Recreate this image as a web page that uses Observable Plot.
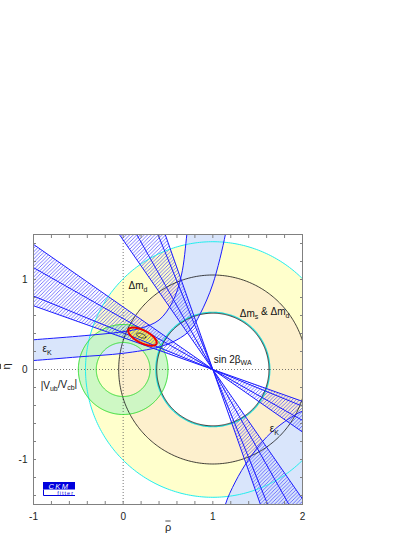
<!DOCTYPE html>
<html>
<head>
<meta charset="utf-8">
<script src="https://cdn.jsdelivr.net/npm/d3@7"></script>
<script src="https://cdn.jsdelivr.net/npm/@observablehq/plot@0.6"></script>
<style>
html,body{margin:0;padding:0;background:#fff;}
#chart{width:415px;height:537px;}
</style>
</head>
<body>
<div id="chart"></div>
<script>
// ---------- axes ----------
const xTickValues = [-1, 0, 1, 2];
const xTickLabels = ["-1", "0", "1", "2"];
const yTickValues = [-1, 0, 1];
const yTickLabels = ["-1", "0", "1"];
const xMinorTicks = [-1, -0.8, -0.6, -0.4, -0.2, 0, 0.2, 0.4, 0.6, 0.8, 1, 1.2, 1.4, 1.6, 1.8, 2];
const yMinorTicks = [-1.4, -1.2, -1, -0.8, -0.6, -0.4, -0.2, 0, 0.2, 0.4, 0.6, 0.8, 1, 1.2, 1.4];
const xLabel = "ρ";   // drawn with an overbar
const yLabel = "η";   // drawn with an overbar

// ---------- constraints ----------
const dmCentre = [1, 0];
const dmdRadii = [0.63, 1.42];      // Δm_d band (cyan borders)
const dmsRadii = [0.63, 1.05];      // Δm_s & Δm_d band (black borders)
const vubCentre = [0, 0];
const vubRadii = [0.30, 0.50];      // |Vub/Vcb| band (green)
const sin2bApex = [1, 0];
const sin2bBeta = [19.5, 22.2, 29.5, 34.8];   // degrees; second solution at 90-β
// ε_K band, upper-left branch
const epsKUpper = [[-1.1, 0.32], [-1, 0.33], [-0.5, 0.37], [0, 0.42], [0.2, 0.46], [0.4, 0.55], [0.55, 0.75], [0.65, 1.05], [0.71, 1.5], [0.73, 1.7]];
const epsKLower = [[-1.1, 0.095], [-1, 0.10], [-0.5, 0.14], [0, 0.18], [0.4, 0.25], [0.6, 0.33], [0.75, 0.44], [0.86, 0.62], [1.0, 0.95], [1.14, 1.5], [1.17, 1.7]];
// ε_K band, lower-right branch (inner border; the other border lies outside)
const epsKRight = [[1.10, -1.7], [1.14, -1.5], [1.25, -1.25], [1.40, -1.0], [1.6, -0.75], [1.8, -0.58], [2.0, -0.46], [2.2, -0.38]];
const epsKRightCorner = [[2.4, -1.9]];
// global fit
const fitCentre = [0.215, 0.365], fitAxes = [0.175, 0.07], fitAngle = -27;
const coreCentre = [0.20, 0.377], coreAxes = [0.055, 0.022], coreAngle = -20;
// labels
const labelText = ["Δm_{d}", "Δm_{s} & Δm_{d}", "sin 2β_{WA}", "ε_{K}", "|V_{ub}/V_{cb}|", "ε_{K}"];
const labelX = [0.06, 1.30, 1.01, -0.90, -0.92, 1.635];
const labelY = [0.925, 0.624, 0.11, 0.226, -0.178, -0.66];

// ---------- geometry helpers ----------
const ring = ([cx, cy], r, n = 360) => d3.range(n + 1).map(i => {
  const t = 2 * Math.PI * i / n; return {x: cx + r * Math.cos(t), y: cy + r * Math.sin(t)};
});
const annulus = (c, [r0, r1]) => ring(c, r1).concat(ring(c, r0).reverse());
const ellipse = ([cx, cy], [a, b], deg, n = 200) => {
  const p = deg * Math.PI / 180;
  return d3.range(n + 1).map(i => {
    const t = 2 * Math.PI * i / n;
    return {x: cx + a * Math.cos(t) * Math.cos(p) - b * Math.sin(t) * Math.sin(p),
            y: cy + a * Math.cos(t) * Math.sin(p) + b * Math.sin(t) * Math.cos(p)};
  });
};
const rad = d => d * Math.PI / 180;
const far = 6;
const [ax, ay] = sin2bApex;
const bMin = d3.min(sin2bBeta), bMax = d3.max(sin2bBeta);
const wedges = [];
[[bMin, bMax], [90 - bMax, 90 - bMin]].forEach(([a1, a2], k) => {
  [1, -1].forEach(s => {
    const w = `w${k}${s}`;
    wedges.push({w, x: ax, y: ay});
    wedges.push({w, x: ax - s * far * Math.cos(rad(a1)), y: ay + s * far * Math.sin(rad(a1))});
    wedges.push({w, x: ax - s * far * Math.cos(rad(a2)), y: ay + s * far * Math.sin(rad(a2))});
  });
});
const rays = sin2bBeta.concat(sin2bBeta.map(b => 90 - b)).map(a => ({
  x1: ax - far * Math.cos(rad(a)), y1: ay + far * Math.sin(rad(a)),
  x2: ax + far * Math.cos(rad(a)), y2: ay - far * Math.sin(rad(a))
}));
const pts = arr => arr.map(([x, y]) => ({x, y}));
const epsUL = pts(epsKUpper).concat(pts(epsKLower).reverse());
const epsLR = pts(epsKRight).concat(pts(epsKRightCorner));
const labels = labelText.map((t, i) => ({t, x: labelX[i], y: labelY[i]}));

const blue = "#1c1cff";
const cl = {x: "x", y: "y", clip: true};

const plot = Plot.plot({
  width: 415, height: 537,
  marginTop: 234, marginRight: 113, marginBottom: 33, marginLeft: 33,
  x: {domain: [-1, 2]},
  y: {domain: [-1.5, 1.5]},
  style: {fontFamily: "'Liberation Sans', Arial, Helvetica, sans-serif", fontSize: "10px", background: "white", color: "#222"},
  marks: [
    Plot.line(annulus(dmCentre, dmdRadii), {...cl, fill: "#ffffcc", stroke: "none", curve: "linear-closed"}),
    Plot.line(annulus(dmCentre, dmsRadii), {...cl, fill: "#fdf0cd", stroke: "none", curve: "linear-closed"}),
    Plot.line(epsUL, {...cl, fill: "#d9e5fb", stroke: "none", curve: "catmull-rom-closed"}),
    Plot.line(epsLR, {...cl, fill: "#d9e5fb", stroke: "none", curve: "linear-closed"}),
    Plot.line(annulus(vubCentre, vubRadii), {...cl, fill: "#c6f7c2", fillOpacity: 0.85, stroke: "none", curve: "linear-closed"}),
    Plot.line(ellipse(fitCentre, fitAxes, fitAngle), {...cl, fill: "#f8f455", stroke: "none", curve: "linear-closed"}),
    Plot.line(wedges, {...cl, z: "w", fill: "url(#hatch)", stroke: "none", curve: "linear-closed"}),
    Plot.ruleX([0], {stroke: "#555", strokeDasharray: "1,2", strokeWidth: 0.8}),
    Plot.ruleY([0], {stroke: "#555", strokeDasharray: "1,2", strokeWidth: 0.8}),
    Plot.line(ring(dmCentre, dmdRadii[1]), {...cl, stroke: "#22eeee", strokeWidth: 1, curve: "linear"}),
    Plot.line(ring(dmCentre, dmdRadii[0] + 0.006), {...cl, stroke: "#22dddd", strokeWidth: 1.2}),
    Plot.line(ring(dmCentre, dmsRadii[0] - 0.004), {...cl, stroke: "#111", strokeWidth: 0.8}),
    Plot.line(ring(dmCentre, dmsRadii[1]), {...cl, stroke: "#111", strokeWidth: 0.8}),
    Plot.line(ring(vubCentre, vubRadii[0]), {...cl, stroke: "#33dd33", strokeWidth: 1}),
    Plot.line(ring(vubCentre, vubRadii[1]), {...cl, stroke: "#33dd33", strokeWidth: 1}),
    Plot.line(pts(epsKUpper), {...cl, stroke: blue, strokeWidth: 1, curve: "catmull-rom"}),
    Plot.line(pts(epsKLower), {...cl, stroke: blue, strokeWidth: 1, curve: "catmull-rom"}),
    Plot.line(pts(epsKRight), {...cl, stroke: blue, strokeWidth: 1, curve: "catmull-rom"}),
    Plot.link(rays, {x1: "x1", y1: "y1", x2: "x2", y2: "y2", stroke: blue, strokeWidth: 1, clip: true}),
    Plot.line(ellipse(fitCentre, fitAxes, fitAngle), {...cl, stroke: "#ee0000", strokeWidth: 2, curve: "linear-closed"}),
    Plot.line(ellipse(coreCentre, coreAxes, coreAngle), {...cl, stroke: "#222", strokeWidth: 0.8, curve: "linear-closed"}),
    Plot.frame({stroke: "#808080"}),
    Plot.axisX({anchor: "bottom", ticks: xTickValues, tickSize: 0, tickPadding: 8, tickFormat: (d, i) => xTickLabels[i], label: null, fontSize: 10}),
    Plot.axisY({anchor: "left", ticks: yTickValues, tickSize: 0, tickPadding: 6, tickFormat: (d, i) => yTickLabels[i], label: null, fontSize: 10}),
    Plot.axisX({anchor: "bottom", ticks: xMinorTicks, tickSize: -3, tickFormat: () => "", label: null, stroke: "#808080"}),
    Plot.axisX({anchor: "top", ticks: xMinorTicks, tickSize: -3, tickFormat: () => "", label: null, stroke: "#808080"}),
    Plot.axisY({anchor: "left", ticks: yMinorTicks, tickSize: -3, tickFormat: () => "", label: null, stroke: "#808080"}),
    Plot.axisY({anchor: "right", ticks: yMinorTicks, tickSize: -3, tickFormat: () => "", label: null, stroke: "#808080"}),
    Plot.text([xLabel], {text: d => d, frameAnchor: "bottom", dy: 26, fontSize: 11, className: "ovl"}),
    Plot.text([yLabel], {text: d => d, frameAnchor: "left", dx: -27, rotate: -90, fontSize: 11, className: "ovl"}),
    Plot.text(labels, {x: "x", y: "y", text: "t", textAnchor: "start", fontSize: 10, fill: "#111", className: "lbl"})
  ]
});

const svg = plot.tagName.toLowerCase() === "svg" ? plot : plot.querySelector("svg");
d3.select(svg).insert("defs", ":first-child").html(
  `<pattern id="hatch" patternUnits="userSpaceOnUse" width="3.6" height="3.6">
     <path d="M-1,1 L1,-1 M0,3.6 L3.6,0 M2.6,4.6 L4.6,2.6" stroke="#3b3bff" stroke-width="0.7"/>
   </pattern>`);

// subscripts in labels
d3.select(svg).selectAll(".lbl text").each(function () {
  const s = this.textContent;
  const el = d3.select(this);
  el.text(null);
  let shifted = false;
  s.split(/(_\{[^}]*\})/).forEach(p => {
    if (!p) return;
    if (p.startsWith("_{")) {
      el.append("tspan").attr("dy", "0.35em").attr("font-size", "7px").text(p.slice(2, -1));
      shifted = true;
    } else {
      const t = el.append("tspan").text(p);
      if (shifted) { t.attr("dy", "-0.35em"); shifted = false; }
    }
  });
});

// CKMfitter logo
const lg = d3.select(svg).append("g").attr("transform", "translate(43,482)");
lg.append("rect").attr("width", 32).attr("height", 7.5).attr("fill", "#0000dd");
lg.append("text").attr("x", 16).attr("y", 6.6).attr("text-anchor", "middle").attr("fill", "white")
  .attr("font-size", 7.5).attr("font-style", "italic").attr("letter-spacing", 1.5).text("CKM");
lg.append("path").attr("d", "M0.5,7.5 V13.5 H32").attr("stroke", "#0000dd").attr("fill", "none").attr("stroke-width", 1);
lg.append("text").attr("x", 31).attr("y", 12.8).attr("text-anchor", "end").attr("fill", "#0000dd")
  .attr("font-size", 5.5).attr("letter-spacing", 1).text("fitter");

document.getElementById("chart").appendChild(plot);

// overbars on the axis titles
d3.select(svg).selectAll(".ovl text").each(function () {
  const b = this.getBBox();
  const tr = this.getAttribute("transform");
  const g = d3.select(this.parentNode).append("path")
    .attr("d", `M${b.x + 0.5},${b.y + 0.5}H${b.x + b.width - 0.5}`)
    .attr("stroke", "#222").attr("stroke-width", 0.8);
  if (tr) g.attr("transform", tr);
  const x = this.getAttribute("x"), y = this.getAttribute("y");
  if (!tr && (x || y)) g.attr("transform", null);
});
</script>
</body>
</html>
